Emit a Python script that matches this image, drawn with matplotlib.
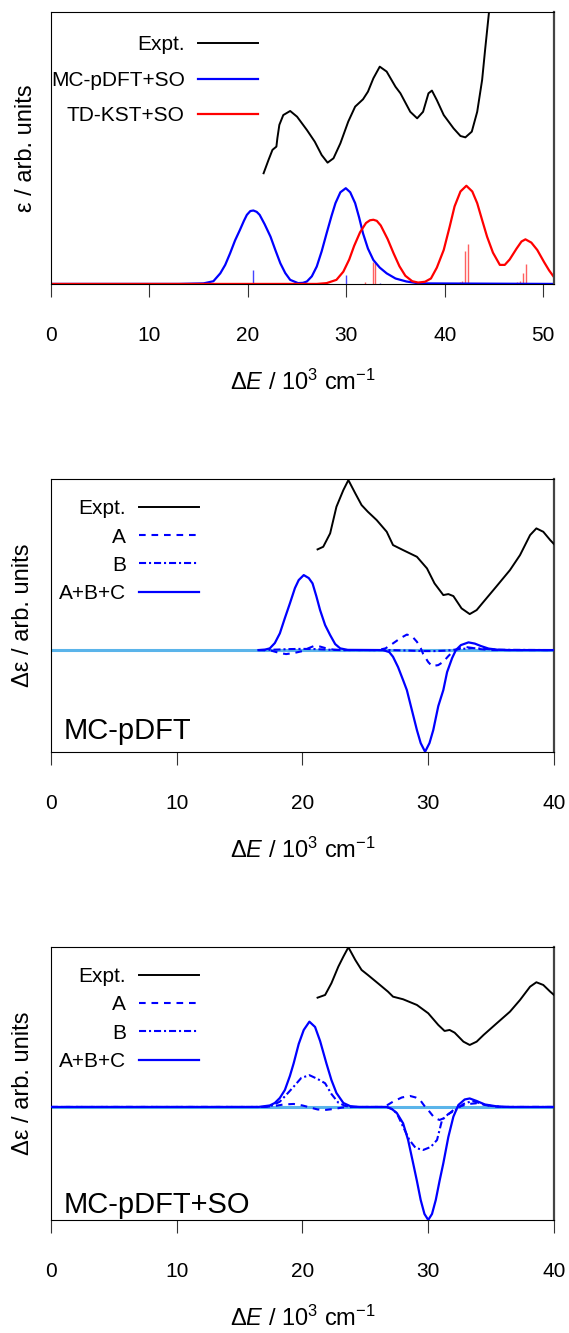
import numpy as np
import matplotlib
matplotlib.use("Agg")
import matplotlib.pyplot as plt

plt.rcParams['font.family'] = ['Liberation Sans', 'DejaVu Sans']
plt.rcParams['mathtext.fontset'] = 'custom'
plt.rcParams['mathtext.rm'] = 'Liberation Sans'
plt.rcParams['mathtext.it'] = 'Liberation Sans:italic'

# ---- absorption (top) ----
expt_abs_x = [21.6, 22.1, 22.5, 22.9, 23.0, 23.2, 23.6, 24.3, 25.0, 26.0, 26.8, 27.5, 28.1,
              28.7, 29.4, 30.2, 30.9, 31.7, 32.2, 32.75, 33.4, 34.1, 35.0, 35.5, 36.5, 37.2,
              37.8, 38.35, 38.7, 39.2, 39.9, 40.9, 41.6, 42.1, 42.75, 43.3, 43.8, 44.1, 44.5, 44.8]
expt_abs_y = [0.407, 0.456, 0.493, 0.505, 0.536, 0.585, 0.621, 0.636, 0.615, 0.566, 0.523, 0.474,
              0.446, 0.462, 0.517, 0.597, 0.652, 0.679, 0.707, 0.756, 0.799, 0.781, 0.725, 0.701,
              0.633, 0.609, 0.633, 0.701, 0.711, 0.676, 0.621, 0.572, 0.544, 0.539, 0.56, 0.633,
              0.75, 0.86, 1.0, 1.1]

so_abs_x = [0, 13.0, 15.5, 16.5, 17.2, 17.7, 18.2, 18.7, 19.2, 19.6, 19.9, 20.25, 20.56, 20.9,
            21.2, 21.7, 22.3, 22.8, 23.3, 23.8, 24.3, 25.1, 25.6, 26.0, 26.5, 27.0, 27.5, 28.0,
            28.5, 28.9, 29.4, 29.95, 30.4, 30.9, 31.3, 31.7, 32.2, 32.75, 33.4, 34.1, 35.0,
            36.1, 37.4, 51.1]
so_abs_y = [0, 0, 0.002, 0.01, 0.039, 0.07, 0.113, 0.16, 0.199, 0.232, 0.254, 0.268, 0.27, 0.265,
            0.254, 0.22, 0.174, 0.124, 0.076, 0.04, 0.015, 0.003, 0.004, 0.009, 0.028, 0.064,
            0.12, 0.186, 0.25, 0.297, 0.337, 0.352, 0.337, 0.297, 0.245, 0.186, 0.13, 0.088,
            0.06, 0.039, 0.02, 0.009, 0.002, 0]

kst_abs_x = [0, 27.0, 28.0, 29.0, 29.7, 30.3, 30.8, 31.4, 32.0, 32.4, 32.75, 33.1, 33.5, 34.2,
             34.8, 35.4, 36.0, 36.7, 37.3, 38.0, 38.6, 39.2, 39.9, 40.5, 41.0, 41.6, 42.2, 42.8,
             43.3, 43.8, 44.3, 44.9, 45.6, 46.1, 46.6, 47.3, 47.8, 48.2, 48.8, 49.4, 50.1, 50.6, 51.1]
kst_abs_y = [0, 0, 0.003, 0.015, 0.045, 0.09, 0.14, 0.19, 0.224, 0.234, 0.236, 0.232, 0.215,
             0.165, 0.113, 0.065, 0.03, 0.01, 0.005, 0.008, 0.02, 0.06, 0.125, 0.21, 0.285, 0.34,
             0.361, 0.34, 0.297, 0.235, 0.174, 0.115, 0.07, 0.07, 0.09, 0.13, 0.156, 0.164,
             0.152, 0.125, 0.08, 0.05, 0.025]

so_sticks_x = [20.56, 29.95, 33.4]
so_sticks_h = [0.051, 0.031, 0.005]
kst_sticks_x = [31.9, 32.75, 32.96, 41.6, 41.8, 42.07, 42.35, 47.3, 47.6, 48.0, 48.24]
kst_sticks_h = [0.008, 0.082, 0.076, 0.006, 0.01, 0.121, 0.146, 0.008, 0.01, 0.042, 0.072]

# ---- CD, MC-pDFT (middle) ----
expt_cd1_x = [21.2, 21.65, 22.2, 22.7, 23.25, 23.65, 24.2, 24.7, 25.2, 25.9, 26.7, 27.2, 28.0,
              29.1, 29.9, 30.5, 31.2, 31.6, 32.0, 32.65, 33.3, 33.85, 34.4, 35.4, 36.5, 37.3,
              38.1, 38.6, 39.15, 39.7, 40.0]
expt_cd1_y = [1.007, 1.033, 1.167, 1.433, 1.6, 1.70, 1.567, 1.45, 1.383, 1.30, 1.183, 1.05, 1.0,
              0.933, 0.817, 0.667, 0.55, 0.56, 0.54, 0.417, 0.36, 0.40, 0.483, 0.633, 0.80, 0.95,
              1.15, 1.217, 1.183, 1.10, 1.06]

tot_cd1_x = [16.5, 17.0, 17.4, 17.8, 18.2, 18.6, 19.0, 19.4, 19.7, 20.1, 20.5, 20.8, 21.1, 21.4,
             21.8, 22.2, 22.6, 23.0, 23.6, 26.4, 26.9, 27.2, 27.6, 28.0, 28.3, 28.7, 29.1, 29.4,
             29.75, 30.1, 30.4, 30.8, 31.2, 31.5, 31.9, 32.2, 32.6, 33.2, 33.7, 34.2, 34.8, 35.5,
             36.5, 40.0]
tot_cd1_y = [0, 0.004, 0.017, 0.07, 0.167, 0.32, 0.467, 0.62, 0.70, 0.75, 0.72, 0.667, 0.54, 0.40,
             0.25, 0.15, 0.06, 0.017, 0.002, 0, -0.02, -0.067, -0.17, -0.30, -0.40, -0.60, -0.80,
             -0.93, -1.017, -0.93, -0.80, -0.56, -0.40, -0.22, -0.08, 0.0, 0.05, 0.077, 0.065,
             0.04, 0.015, 0.004, 0, 0]

a_cd1_x = [16.5, 17.5, 18.2, 18.7, 19.3, 20.0, 20.5, 20.9, 21.4, 21.9, 22.5, 23.2, 26.0, 26.6,
           27.2, 27.8, 28.3, 28.7, 29.1, 29.4, 29.6, 30.0, 30.3, 30.8, 31.2, 31.6, 32.0, 32.5,
           33.0, 33.6, 34.1, 35.0, 40.0]
a_cd1_y = [0, -0.005, -0.03, -0.04, -0.03, -0.01, 0.02, 0.04, 0.035, 0.017, 0.004, 0, 0, 0.017,
           0.067, 0.12, 0.155, 0.14, 0.083, 0.02, -0.04, -0.12, -0.16, -0.15, -0.117, -0.06,
           -0.01, 0.02, 0.03, 0.02, 0.01, 0, 0]

b_cd1_x = [16.5, 18.0, 19.0, 20.0, 21.0, 22.0, 23.0, 27.0, 28.5, 29.5, 30.5, 31.5, 32.5, 33.5,
           34.5, 35.5, 40.0]
b_cd1_y = [0, 0.005, 0.01, 0.012, 0.01, 0.004, 0, 0, -0.005, -0.01, -0.01, -0.005, 0.01, 0.02,
           0.012, 0.003, 0]

# ---- CD, MC-pDFT+SO (bottom) ----
expt_cd2_x = [21.2, 21.8, 22.3, 22.85, 23.25, 23.65, 24.2, 24.7, 25.2, 26.0, 26.8, 27.2, 28.0,
              29.1, 30.0, 30.8, 31.3, 31.7, 32.1, 32.8, 33.3, 33.85, 34.4, 35.45, 36.5, 37.3,
              38.1, 38.6, 39.15, 39.7, 40.0]
expt_cd2_y = [1.093, 1.12, 1.237, 1.403, 1.503, 1.597, 1.47, 1.37, 1.32, 1.237, 1.153, 1.103,
              1.077, 1.02, 0.937, 0.82, 0.76, 0.77, 0.743, 0.653, 0.62, 0.653, 0.72, 0.837,
              0.953, 1.07, 1.203, 1.247, 1.22, 1.153, 1.12]

tot_cd2_x = [0, 16.5, 17.4, 17.8, 18.2, 18.6, 19.0, 19.3, 19.7, 20.1, 20.55, 21.0, 21.4, 21.9,
             22.3, 22.7, 23.25, 23.8, 24.5, 26.7, 27.1, 27.5, 28.0, 28.4, 28.8, 29.1, 29.4, 29.7,
             30.0, 30.3, 30.6, 30.9, 31.2, 31.6, 32.0, 32.4, 32.9, 33.3, 33.85, 34.5, 35.5, 36.5,
             40.0]
tot_cd2_y = [0, 0, 0.015, 0.04, 0.09, 0.17, 0.31, 0.437, 0.63, 0.77, 0.853, 0.80, 0.66, 0.437,
             0.27, 0.14, 0.04, 0.008, 0, 0, -0.02, -0.06, -0.163, -0.33, -0.563, -0.74, -0.93,
             -1.07, -1.13, -1.07, -0.93, -0.74, -0.563, -0.30, -0.097, 0.02, 0.075, 0.085, 0.06,
             0.025, 0.005, 0, 0]

a_cd2_x = [0, 17.0, 17.8, 18.5, 19.3, 20.0, 20.6, 21.2, 21.8, 22.5, 23.2, 24.0, 26.5, 27.2,
           27.9, 28.55, 29.0, 29.35, 29.7, 30.1, 30.5, 30.9, 31.3, 31.7, 32.1, 32.5, 33.2, 33.85,
           34.5, 35.2, 36.0, 40.0]
a_cd2_y = [0, 0, 0.01, 0.025, 0.03, 0.015, -0.005, -0.025, -0.03, -0.02, -0.005, 0, 0, 0.053,
           0.095, 0.11, 0.095, 0.07, 0.01, -0.047, -0.11, -0.13, -0.11, -0.063, -0.02, 0.005,
           0.03, 0.037, 0.02, 0.005, 0, 0]

b_cd2_x = [0, 17.0, 17.6, 18.2, 18.7, 19.3, 19.9, 20.55, 21.2, 21.8, 22.3, 22.85, 23.4, 24.0,
           26.7, 27.1, 27.5, 28.0, 28.5, 29.0, 29.6, 30.2, 30.7, 31.1, 31.6, 32.2, 32.8, 33.5,
           34.2, 35.0, 36.0, 40.0]
b_cd2_y = [0, 0, 0.015, 0.053, 0.12, 0.203, 0.29, 0.318, 0.28, 0.237, 0.13, 0.043, 0.01, 0,
           0, -0.02, -0.063, -0.197, -0.33, -0.41, -0.43, -0.40, -0.33, -0.13, -0.07, -0.03,
           0.03, 0.06, 0.035, 0.01, 0, 0]

BLUE = '#0000ff'
RED = '#ff0000'
ZERO = '#5ab4ea'
FS = 15      # ticks and keys
LFS = 17     # axis titles

dash_a = (3.2, 2.8)
dash_b = (3.4, 1.4, 1.0, 1.4)


def frame(ax, xmax, ticks):
    ax.set_xlim(0, xmax)
    ax.set_xticks(ticks)
    ax.set_yticks([])
    ax.tick_params(axis='x', direction='out', length=9.5, width=0.8, colors='#333333',
                   labelcolor='black', labelsize=FS, pad=21)
    for s in ['left', 'top', 'bottom']:
        ax.spines[s].set_linewidth(0.8)
    ax.spines['right'].set_linewidth(1.6)
    ax.spines['right'].set_color('#444444')
    ax.set_xlabel(r'$\Delta\mathit{E}$ / 10$^{3}$ cm$^{-1}$', fontsize=LFS)
    ax.xaxis.label.set_va('center')
    ax.xaxis.set_label_coords(0.5, -0.36)


def key(ax, labels, styles, xt, x0, x1, ys):
    for lab, st, y in zip(labels, styles, ys):
        ax.text(xt, y, lab, transform=ax.transAxes, ha='right', va='center_baseline', fontsize=FS)
        ax.plot([x0, x1], [y, y], transform=ax.transAxes, clip_on=False, **st)


fig = plt.figure(figsize=(5.69, 13.33), dpi=100)

# top: absorption
ax1 = fig.add_axes([0.0896, 0.787, 0.884, 0.204])
ax1.vlines(so_sticks_x, 0, so_sticks_h, color='#4444ff', lw=1.0)
ax1.vlines(kst_sticks_x, 0, kst_sticks_h, color='#ff6060', lw=1.0)
ax1.plot(so_abs_x, so_abs_y, color=BLUE, lw=1.6)
ax1.plot(kst_abs_x, kst_abs_y, color=RED, lw=1.6)
ax1.plot(expt_abs_x, expt_abs_y, color='black', lw=1.4)
ax1.set_ylim(0, 1)
frame(ax1, 51.1, [0, 10, 20, 30, 40, 50])
ax1.set_ylabel('ε / arb. units', fontsize=LFS)
ax1.yaxis.label.set_va('center')
ax1.yaxis.set_label_coords(-0.05, 0.5)
key(ax1, ['Expt.', 'MC-pDFT+SO', 'TD-KST+SO'],
    [dict(color='black', lw=1.4), dict(color=BLUE, lw=1.6), dict(color=RED, lw=1.6)],
    0.266, 0.292, 0.4115, [0.886, 0.754, 0.625])

cd_panels = [
    (0.4358, (-1.02, 1.71), 'MC-pDFT', 0.048,
     expt_cd1_x, expt_cd1_y, a_cd1_x, a_cd1_y, b_cd1_x, b_cd1_y, tot_cd1_x, tot_cd1_y),
    (0.0848, (-1.13, 1.60), 'MC-pDFT+SO', 0.024,
     expt_cd2_x, expt_cd2_y, a_cd2_x, a_cd2_y, b_cd2_x, b_cd2_y, tot_cd2_x, tot_cd2_y),
]

for (bot, ylim, name, ny, ex, ey, ax_, ay, bx, by, tx, ty) in cd_panels:
    ax = fig.add_axes([0.0896, bot, 0.884, 0.2048])
    ax.axhline(0, color=ZERO, lw=2.2, zorder=1)
    ax.plot(ax_, ay, color=BLUE, lw=1.5, dashes=dash_a, zorder=2)
    ax.plot(bx, by, color=BLUE, lw=1.5, dashes=dash_b, zorder=2)
    ax.plot(tx, ty, color=BLUE, lw=1.6, zorder=3)
    ax.plot(ex, ey, color='black', lw=1.4, zorder=3)
    ax.set_ylim(*ylim)
    frame(ax, 40, [0, 10, 20, 30, 40])
    ax.set_ylabel('Δε / arb. units', fontsize=LFS)
    ax.yaxis.label.set_va('center')
    ax.yaxis.set_label_coords(-0.055, 0.5)
    key(ax, ['Expt.', 'A', 'B', 'A+B+C'],
        [dict(color='black', lw=1.4), dict(color=BLUE, lw=1.5, dashes=dash_a),
         dict(color=BLUE, lw=1.5, dashes=dash_b), dict(color=BLUE, lw=1.6)],
        0.149, 0.175, 0.294, [0.8985, 0.795, 0.691, 0.587])
    ax.text(0.0245, ny, name, transform=ax.transAxes, ha='left', va='baseline', fontsize=21)

fig.savefig('out.png', dpi=100)
